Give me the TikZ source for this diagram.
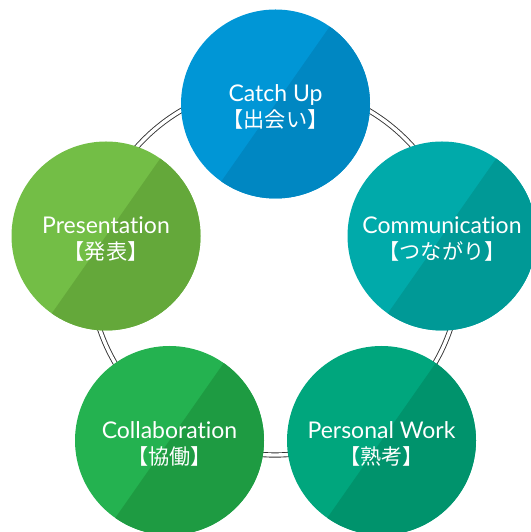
\documentclass[tikz,border=0pt]{standalone}
\usepackage{fontspec}
\setmainfont[Ligatures=NoCommon]{Lato}
\newfontfamily\jpfont[Scale=0.92]{Noto Sans CJK JP}
\usetikzlibrary{calc}

\definecolor{catchlight}{RGB}{0,150,214}
\definecolor{catchdark}{RGB}{0,135,194}
\definecolor{commlight}{RGB}{0,170,170}
\definecolor{commdark}{RGB}{0,153,150}
\definecolor{worklight}{RGB}{0,166,125}
\definecolor{workdark}{RGB}{0,147,108}
\definecolor{collablight}{RGB}{36,178,80}
\definecolor{collabdark}{RGB}{30,155,66}
\definecolor{preslight}{RGB}{115,190,70}
\definecolor{presdark}{RGB}{100,168,58}

\begin{document}
\begin{tikzpicture}[x=1pt,y=1pt,
	stepnode/.style 2 args={circle,minimum size=189pt,inner sep=0pt,text=white,align=center,fill=#1,
		font=\fontsize{23}{26}\selectfont,text height=52pt,text depth=4pt,
		path picture={\fill[#2] ($(path picture bounding box.center)+(55:110pt)$) -- ($(path picture bounding box.center)+(235:110pt)$) -- ++(-35:110pt) -- ++(55:220pt) -- cycle;}},
	ring/.style={draw=black!80,line width=0.9pt,double=white,double distance=3.4pt}]
		\useasboundingbox (0,0) rectangle (530,532);
		\coordinate																	(hub)		at (275,262);
		\draw[ring] (hub) circle[radius=185];

		\node[stepnode={catchlight}{catchdark}]		(catch)		at (275.5,428)	{Catch Up\\{\jpfont 【出会い】}};
		\node[stepnode={commlight}{commdark}]		(comm)		at (442,296)	{Communication\\{\jpfont 【つながり】}};
		\node[stepnode={worklight}{workdark}]		(work)		at (381.5,91.5)	{Personal Work\\{\jpfont 【熟考】}};
		\node[stepnode={collablight}{collabdark}]	(collab)	at (169.5,91.5)	{Collaboration\\{\jpfont 【協働】}};
		\node[stepnode={preslight}{presdark}]		(pres)		at (106,296)	{Presentation\\{\jpfont 【発表】}};
	\end{tikzpicture}
\end{document}
